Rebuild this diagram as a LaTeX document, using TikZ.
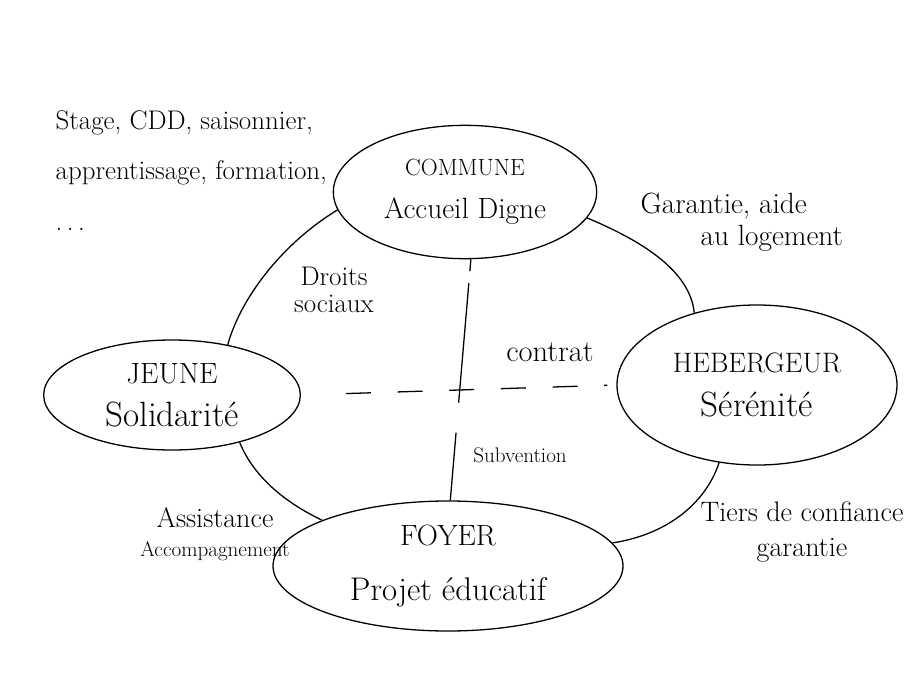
\documentclass[tikz,border=0pt]{standalone}
\usetikzlibrary{shapes.geometric}
\newcommand{\hand}[2]{\fontsize{#1}{#2}\selectfont}

\begin{document}
\begin{tikzpicture}[x=0.03cm, y=-0.03cm, line width=1.1pt,
  actor/.style={draw, ellipse, inner sep=0pt, align=center, font=\hand{25}{37}},
  lbl/.style={inner sep=0pt, align=center},
  cut/.style={dash pattern=on 0.36cm off 0.36cm on 3.6cm off 0.9cm on 4cm off 0.1cm},
  deal/.style={dash pattern=on 0.75cm off 0.8cm, shorten <=1.35cm, shorten >=0.27cm}]
\useasboundingbox (0,0) rectangle (911,689);

\node[actor, minimum width=7.9cm, minimum height=4cm] (commune) at (465,192) {{\hand{20}{37}COMMUNE}\\ Accueil Digne};
\node[actor, minimum width=7.7cm, minimum height=3.3cm] (jeune) at (172,395) {JEUNE\\ {\hand{30}{37}Solidarité}};
\node[actor, minimum width=8.4cm, minimum height=4.8cm] (heb) at (757,385) {{\hand{24}{37}HEBERGEUR}\\ {\hand{30}{37}Sérénité}};
\node[actor, minimum width=10.5cm, minimum height=3.9cm] (foyer) at (448,566) {FOYER\\[10pt] {\hand{28}{37}Projet éducatif}};

\draw (jeune.42) .. controls (240,300) and (280,245) .. (commune.188);
\draw (commune.348) .. controls (640,240) and (690,270) .. (heb.131);
\draw (heb.244) .. controls (705,505) and (665,535) .. (foyer.8);
\draw (foyer.160) .. controls (290,505) and (255,480) .. (jeune.325);

\draw[cut] (commune.275) -- (foyer.88);
\draw[deal] (jeune.east) -- (heb.west);

\node[lbl, anchor=north west, align=left, font=\hand{23}{43}] (jobs) at (55,110) {Stage, CDD, saisonnier,\\ apprentissage, formation,\\ .\,.\,.};
\node[lbl, anchor=west, align=left, font=\hand{25}{27}] (garantie) at (640,222) {Garantie, aide\\ \hspace*{1.8cm}au logement};
\node[lbl, font=\hand{23}{23}] (droits) at (334,290) {Droits\\ sociaux};
\node[lbl, font=\hand{26}{30}] (contrat) at (550,352) {contrat};
\node[lbl, font=\hand{18}{22}] (subvention) at (520,455) {Subvention};
\node[lbl, font=\hand{18}{25}] (assistance) at (215,534) {{\hand{24}{25}Assistance}\\ Accompagnement};
\node[lbl, font=\hand{24}{30}] (tiers) at (802,532) {Tiers de confiance\\ garantie};
\end{tikzpicture}
\end{document}
